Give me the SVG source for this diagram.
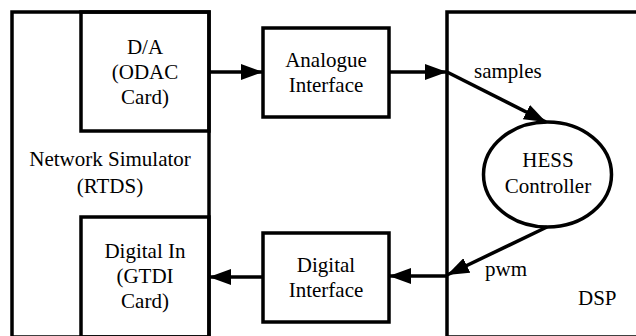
<svg xmlns="http://www.w3.org/2000/svg" width="636" height="336" viewBox="0 0 636 336">
<defs>
<style>
.box{fill:none;stroke:#000;stroke-width:3.5}
.ln{fill:none;stroke:#000;stroke-width:3.5}
.c{text-anchor:middle}
</style>
<marker id="ah" viewBox="0 0 22 16" refX="22" refY="8" markerWidth="22" markerHeight="16" markerUnits="userSpaceOnUse" orient="auto">
<path d="M0,0 L22,8 L0,16 Z" fill="#000"/>
</marker>
</defs>
<rect width="636" height="336" fill="#fff"/>
<g font-family="Liberation Serif, DejaVu Serif, serif" font-size="21" fill="#000">
<g id="rtds">
<rect class="box" x="12" y="12" width="197" height="325"/>
<text class="c" x="110" y="166">Network Simulator</text>
<text class="c" x="110" y="193">(RTDS)</text>
</g>
<g id="da">
<rect class="box" x="81" y="12" width="128" height="119"/>
<text class="c" x="145" y="54">D/A</text>
<text class="c" x="145" y="79">(ODAC</text>
<text class="c" x="145" y="104">Card)</text>
</g>
<g id="digin">
<rect class="box" x="81" y="217" width="128" height="120"/>
<text class="c" x="145" y="258">Digital In</text>
<text class="c" x="145" y="283">(GTDI</text>
<text class="c" x="145" y="308">Card)</text>
</g>
<g id="analogue">
<rect class="box" x="263" y="28" width="126" height="89"/>
<text class="c" x="326" y="67">Analogue</text>
<text class="c" x="326" y="92">Interface</text>
</g>
<g id="digital">
<rect class="box" x="263" y="233" width="126" height="89"/>
<text class="c" x="326" y="272">Digital</text>
<text class="c" x="326" y="297">Interface</text>
</g>
<g id="dsp">
<rect class="box" x="447" y="12" width="200" height="325"/>
<text x="578" y="305">DSP</text>
</g>
<g id="hess">
<ellipse class="box" cx="547.5" cy="174.5" rx="64" ry="52.5"/>
<text class="c" x="548" y="167">HESS</text>
<text class="c" x="548" y="193">Controller</text>
</g>
<g id="connectors">
<line class="ln" x1="209" y1="72" x2="263" y2="72" marker-end="url(#ah)"/>
<line class="ln" x1="389" y1="72" x2="447" y2="72" marker-end="url(#ah)"/>
<line class="ln" x1="447" y1="72" x2="546" y2="122" marker-end="url(#ah)"/>
<line class="ln" x1="547" y1="227" x2="447" y2="275" marker-end="url(#ah)"/>
<line class="ln" x1="447" y1="276" x2="389" y2="276" marker-end="url(#ah)"/>
<line class="ln" x1="263" y1="277" x2="209" y2="277" marker-end="url(#ah)"/>
<text x="474" y="78">samples</text>
<text x="485" y="276">pwm</text>
</g>
</g>
</svg>
